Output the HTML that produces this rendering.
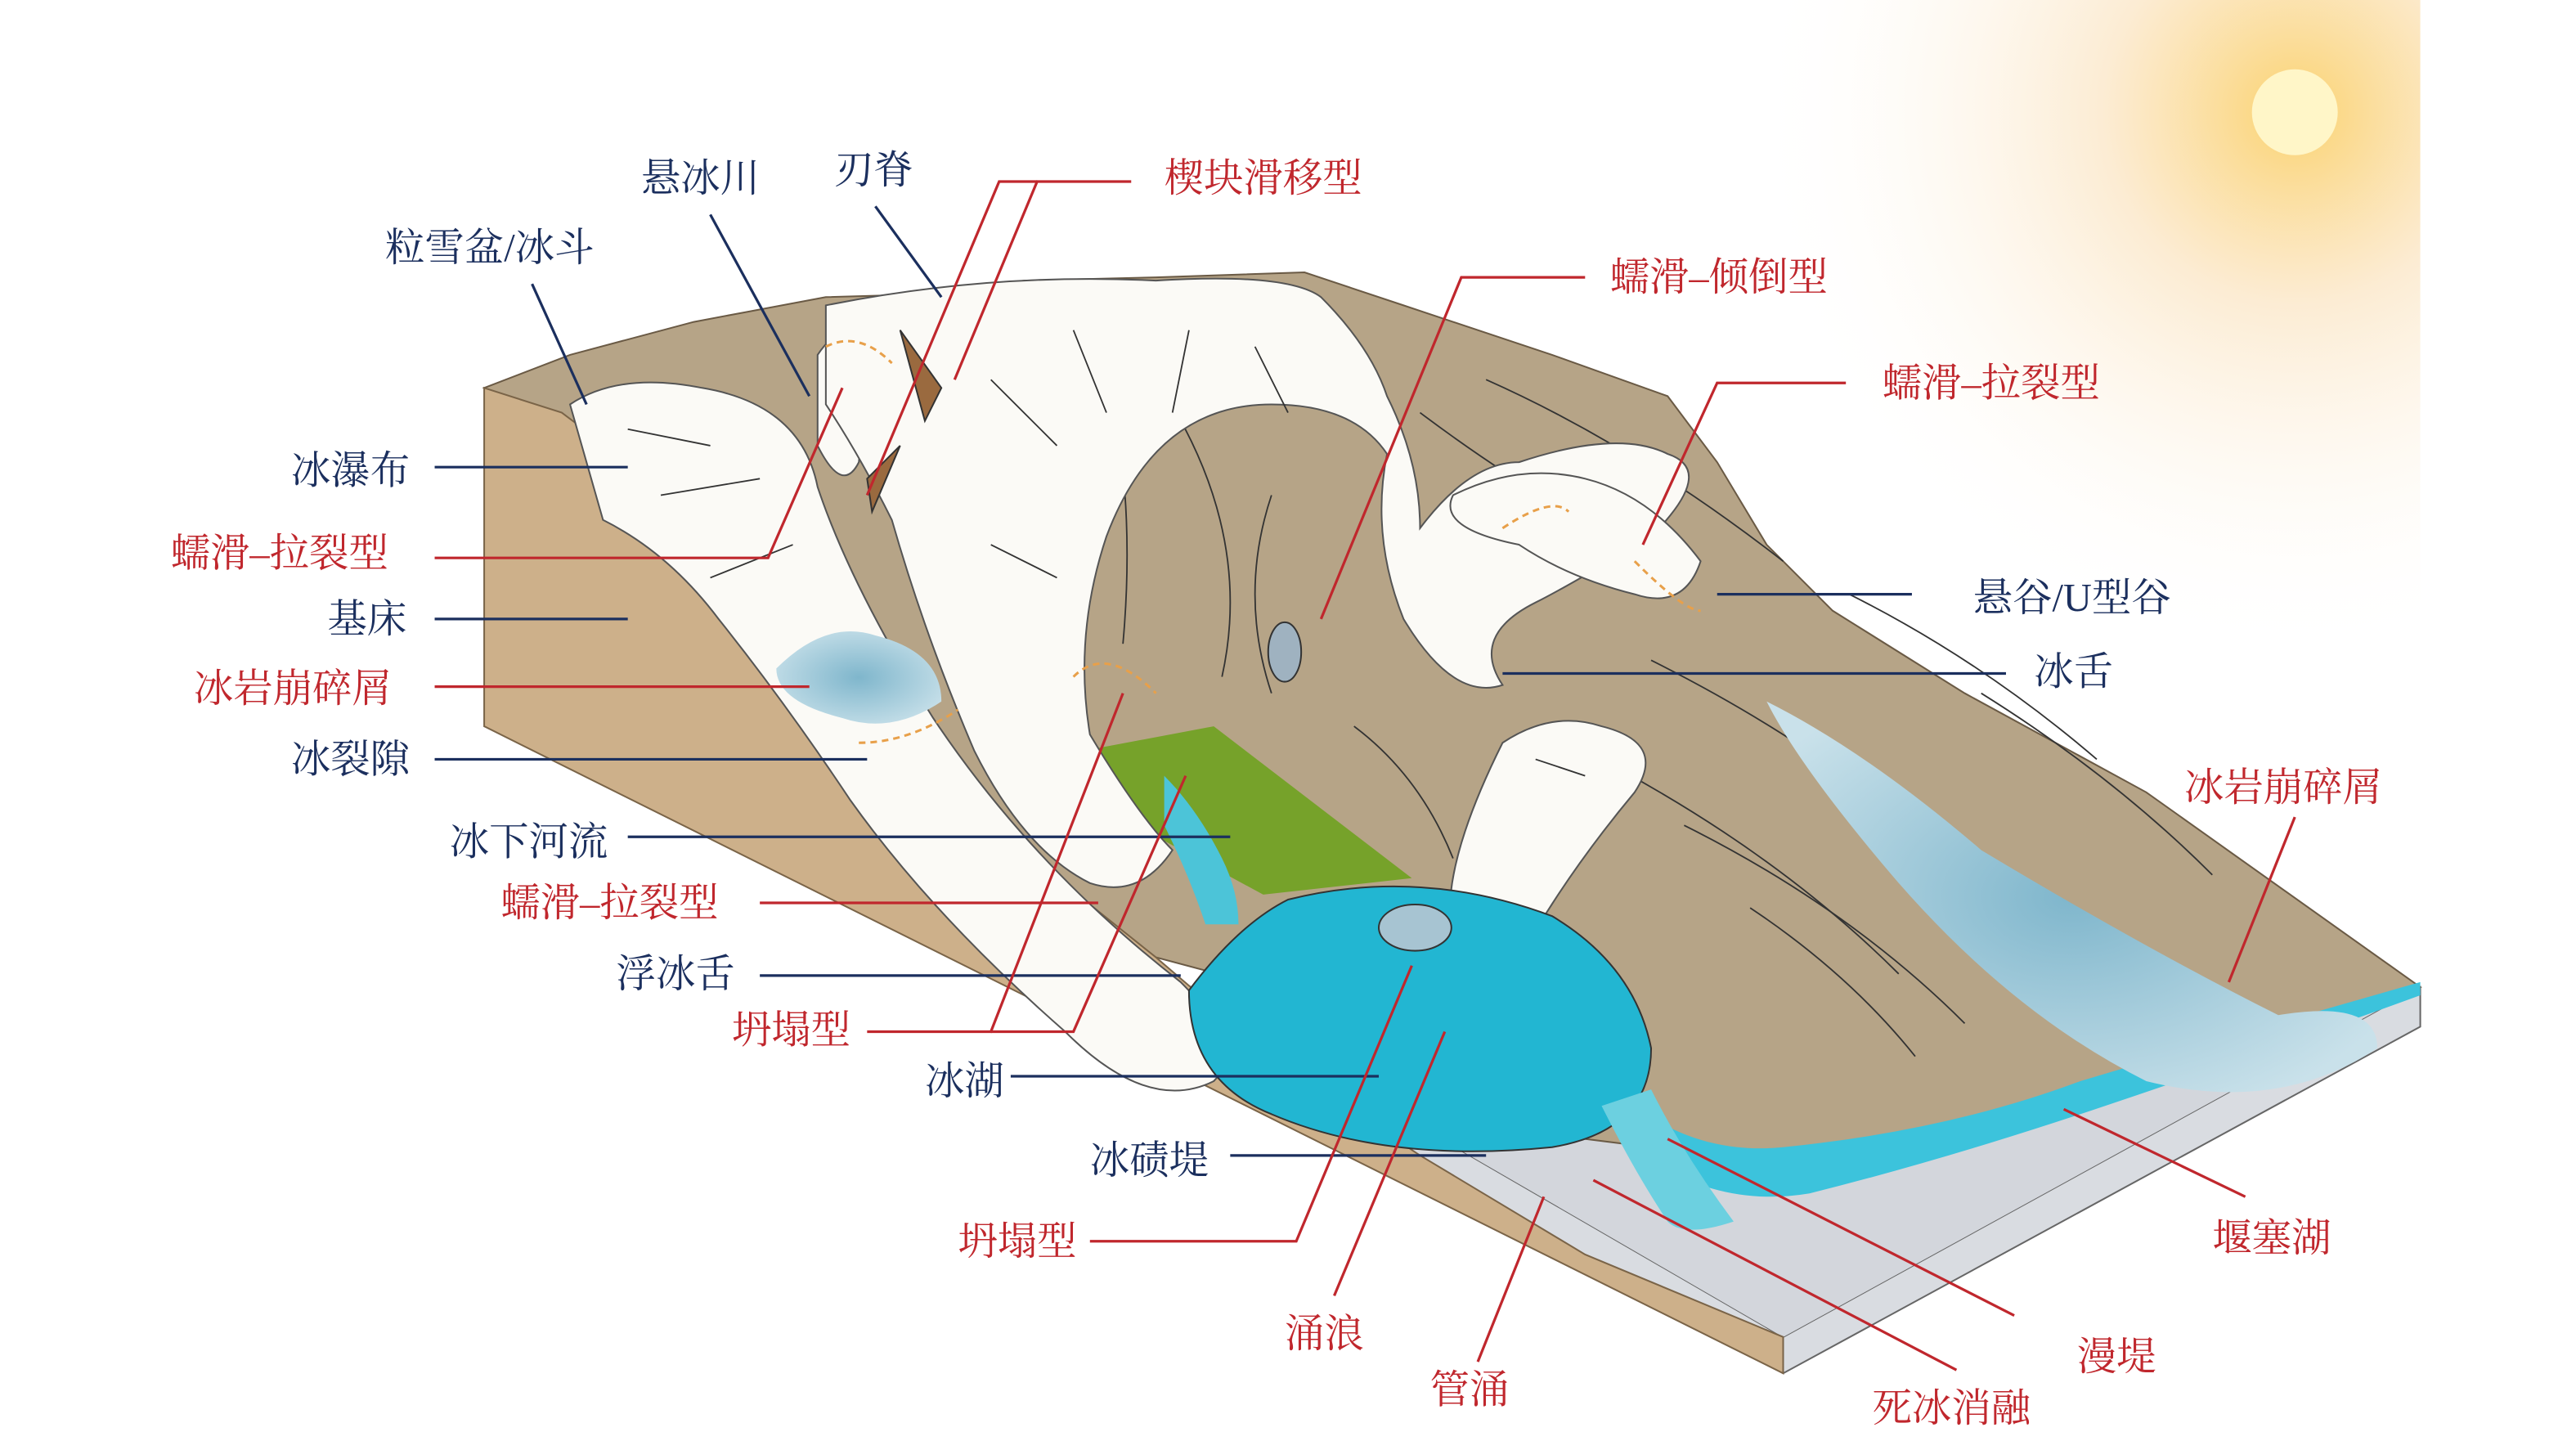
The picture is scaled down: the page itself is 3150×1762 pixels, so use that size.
<!DOCTYPE html>
<html><head><meta charset="utf-8"><style>
html,body{margin:0;padding:0;background:#fff;}
svg{display:block}
text{font-family:"Liberation Serif","Noto Serif CJK SC",serif;font-size:24px;}
.n{fill:#1b2f5e}.r{fill:#c0272d}
.ln{stroke:#1b2f5e;stroke-width:1.6;fill:none}
.lr{stroke:#c0272d;stroke-width:1.6;fill:none}
.ice{fill:#fbfaf6;stroke:#555;stroke-width:1}
.cr{stroke:#333;stroke-width:0.9;fill:none}
</style></head><body>
<svg width="3150" height="1762" viewBox="0 0 1560 873" xmlns="http://www.w3.org/2000/svg">
<defs>
<radialGradient id="sun" cx="1390" cy="68" r="330" gradientUnits="userSpaceOnUse">
<stop offset="0" stop-color="#fff3b0"/><stop offset="0.08" stop-color="#fbd98a"/>
<stop offset="0.35" stop-color="#fbe7c8" stop-opacity="0.8"/><stop offset="1" stop-color="#fff" stop-opacity="0"/>
</radialGradient>
<radialGradient id="deb" cx="0.5" cy="0.5" r="0.6"><stop offset="0" stop-color="#7fb6cc"/><stop offset="1" stop-color="#c9e1ea"/></radialGradient>
</defs>
<rect width="1560" height="873" fill="#fff"/>
<rect x="1060" y="0" width="406" height="620" fill="url(#sun)"/>
<!-- bottom slab -->
<polygon points="700,590 1080,810 1466,598 1466,622 1080,832 700,612" fill="#d9dce1" stroke="#666" stroke-width="1"/>
<polygon points="700,590 1080,810 1466,598 1300,560 1000,690 850,640" fill="#d3d6dc"/>
<!-- top terrain -->
<polygon points="293,235 345,215 420,195 500,180 570,178 620,170 700,168 790,165 850,185 940,215 1010,240 1040,280 1070,330 1110,370 1190,420 1300,480 1466,598 1300,650 1150,690 1040,700 960,690 850,620 700,580 520,440 420,330 350,260" fill="#b6a487" stroke="#6a5a45" stroke-width="1"/>
<!-- left face -->
<polygon points="293,235 340,250 360,265 400,300 430,340 470,395 520,440 600,500 700,580 770,640 860,700 960,760 1080,810 1080,832 293,440" fill="#cdb08a" stroke="#7a6448" stroke-width="1"/>
<!-- hillside hatching -->
<g class="cr" stroke="#4a3b2a">
<path d="M620,200 q40,80 30,200"/><path d="M660,190 q30,90 20,200"/><path d="M700,230 q60,90 40,180"/>
<path d="M860,250 q80,60 150,90"/><path d="M900,230 q90,40 180,110"/><path d="M1000,400 q120,60 200,140"/>
<path d="M950,450 q120,60 200,140"/><path d="M1020,500 q100,50 170,120"/><path d="M1100,470 q80,50 120,110"/>
<path d="M1120,360 q80,40 150,100"/><path d="M1200,420 q80,50 140,110"/><path d="M1060,550 q60,40 100,90"/>
<path d="M820,440 q40,30 60,80"/><path d="M560,260 q30,80 40,160"/><path d="M770,300 q-20,60 0,120"/>
</g>
<!-- green patch -->
<polygon points="618,462 735,440 855,532 765,542" fill="#76a22a"/>
<!-- glaciers -->
<path class="ice" d="M345,245 q30,-20 80,-10 q60,10 70,60 q20,60 70,140 q60,90 150,160 q40,40 20,60 q-40,20 -90,-30 q-80,-70 -130,-140 q-40,-60 -80,-110 q-30,-40 -70,-60z"/>
<path class="ice" d="M495,215 q20,-30 50,-5 q10,30 -10,50 q-15,10 -15,20 q-10,20 -25,-10z"/>
<path class="ice" d="M500,185 q100,-20 200,-15 q80,-5 100,10 q30,30 40,60 q20,40 20,80 q30,-40 60,-40 q60,-20 90,-5 q30,10 -10,50 q-50,30 -70,40 q-40,20 -20,50 q-30,10 -60,-40 q-20,-50 -10,-100 q-20,-30 -70,-30 q-70,0 -100,80 q-20,60 -10,120 q30,50 50,70 q-20,30 -50,20 q-40,-20 -70,-80 q-30,-70 -50,-140 q-20,-40 -40,-70z"/>
<path class="ice" d="M880,300 q40,-20 80,-10 q40,10 70,50 q-10,30 -40,20 q-40,-10 -70,-30 q-50,-10 -40,-30z"/>
<path class="ice" d="M910,450 q30,-20 60,-10 q40,10 20,40 q-50,60 -80,120 q-20,-10 -30,-30 q-10,-40 30,-120z"/>
<g class="cr"><path d="M380,260 l50,10"/><path d="M400,300 l60,-10"/><path d="M430,350 l50,-20"/><path d="M600,230 l40,40"/><path d="M650,200 l20,50"/><path d="M720,200 l-10,50"/><path d="M760,210 l20,40"/><path d="M600,330 l40,20"/><path d="M930,460 l30,10"/></g>
<ellipse cx="778" cy="395" rx="10" ry="18" fill="#9fb2c0" stroke="#333"/>
<!-- dashed cracks -->
<g stroke="#e8a04a" stroke-width="1.5" fill="none" stroke-dasharray="4,3">
<path d="M500,210 q20,-10 40,10"/><path d="M910,320 q30,-20 40,-10"/><path d="M990,340 q30,30 40,30"/><path d="M520,450 q30,0 60,-20"/><path d="M650,410 q20,-20 50,10"/></g>
<polygon points="545,200 570,235 560,255" fill="#9a6a3f" stroke="#333"/>
<polygon points="525,290 545,270 528,310" fill="#9a6a3f" stroke="#333"/>
<!-- lake -->
<path d="M720,600 q30,-40 60,-55 q80,-20 160,10 q50,30 60,80 q0,50 -60,60 q-100,10 -170,-20 q-50,-20 -50,-75z" fill="#22b6d2" stroke="#333" stroke-width="1"/>
<path d="M705,470 q20,20 35,50 q10,20 10,40 l-20,0 q-10,-30 -25,-60z" fill="#4cc4d8"/>
<ellipse cx="857" cy="562" rx="22" ry="14" fill="#a7c4d2" stroke="#333"/>
<!-- river -->
<path d="M990,670 q40,30 90,25 q100,-10 180,-40 q100,-30 206,-60 l0,8 q-110,40 -200,70 q-90,30 -170,50 q-60,10 -110,-30z" fill="#3cc3dc"/>
<path d="M970,670 q20,40 40,70 q10,10 40,0 q-30,-40 -50,-80z" fill="#6cd0e0"/>
<!-- debris -->
<path d="M470,405 q30,-30 60,-20 q40,10 40,40 q-30,20 -60,10 q-40,-10 -40,-30z" fill="url(#deb)"/>
<path d="M1070,425 q60,30 130,90 q100,60 180,100 q60,-10 60,20 q-60,40 -140,20 q-80,-40 -150,-120 q-60,-70 -80,-110z" fill="url(#deb)"/>
<!-- sun core -->
<circle cx="1390" cy="68" r="26" fill="#fff6c8"/>
<!-- connector lines -->
<g class="ln">
<path d="M430,130 L490,240"/><path d="M530,125 L570,180"/><path d="M322,172 L355,245"/>
<path d="M263,283 H380"/><path d="M263,375 H380"/><path d="M1040,360 H1158"/><path d="M910,408 H1215"/>
<path d="M263,460 H525"/><path d="M380,507 H745"/><path d="M460,591 H715"/><path d="M612,652 H835"/><path d="M745,700 H900"/>
</g>
<g class="lr">
<path d="M685,110 H628 L578,230"/><path d="M628,110 H605 L525,300"/>
<path d="M960,168 H885 L800,375"/><path d="M1118,232 H1040 L995,330"/>
<path d="M263,338 H465 L510,235"/><path d="M263,416 H490"/><path d="M1390,495 L1350,595"/>
<path d="M460,547 H665"/><path d="M525,625 H600 L680,420"/><path d="M600,625 H650 L718,470"/>
<path d="M660,752 H785 L855,585"/><path d="M808,785 L875,625"/><path d="M895,825 L935,725"/>
<path d="M1360,725 L1250,672"/><path d="M1220,797 L1010,690"/><path d="M1185,830 L965,715"/>
</g>
<!-- labels -->
<text class="n" x="388" y="116">悬冰川</text>
<text class="n" x="505" y="111">刃脊</text>
<text class="r" x="705" y="116">楔块滑移型</text>
<text class="n" x="233" y="158">粒雪盆/冰斗</text>
<text class="r" x="975" y="176">蠕滑–倾倒型</text>
<text class="r" x="1140" y="240">蠕滑–拉裂型</text>
<text class="n" x="176" y="293">冰瀑布</text>
<text class="r" x="103" y="343">蠕滑–拉裂型</text>
<text class="n" x="198" y="383">基床</text>
<text class="n" x="1195" y="370">悬谷/U型谷</text>
<text class="n" x="1232" y="415">冰舌</text>
<text class="r" x="117" y="425">冰岩崩碎屑</text>
<text class="n" x="176" y="468">冰裂隙</text>
<text class="r" x="1323" y="485">冰岩崩碎屑</text>
<text class="n" x="272" y="518">冰下河流</text>
<text class="r" x="303" y="555">蠕滑–拉裂型</text>
<text class="n" x="373" y="598">浮冰舌</text>
<text class="r" x="443" y="632">坍塌型</text>
<text class="n" x="560" y="663">冰湖</text>
<text class="n" x="660" y="711">冰碛堤</text>
<text class="r" x="580" y="760">坍塌型</text>
<text class="r" x="778" y="816">涌浪</text>
<text class="r" x="866" y="850">管涌</text>
<text class="r" x="1340" y="758">堰塞湖</text>
<text class="r" x="1258" y="830">漫堤</text>
<text class="r" x="1134" y="861">死冰消融</text>
</svg>
</body></html>
